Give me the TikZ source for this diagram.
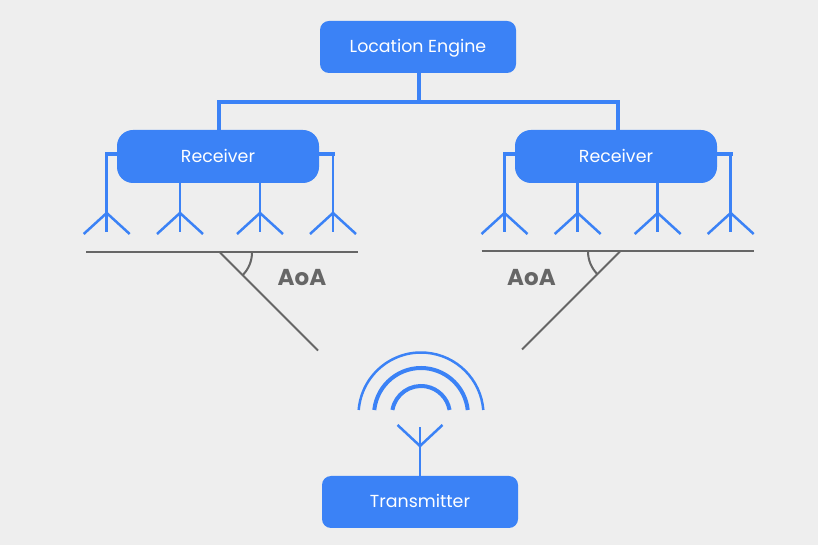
\documentclass[tikz,border=0pt]{standalone}
\usepackage{fontspec}
\setmainfont{Poppins}
\definecolor{bluebox}{HTML}{3B82F6}
\definecolor{bgc}{HTML}{EEEEEE}
\definecolor{greyl}{HTML}{666666}
\tikzset{
  box/.style={fill=bluebox,text=white,rounded corners=#1,inner sep=0pt,text height=12pt,text depth=0pt,font=\fontsize{17.4}{20}\selectfont},
  wire/.style={draw=bluebox,line width=2.5pt},
  bus/.style={draw=bluebox,line width=3.6pt},
  stub/.style={draw=bluebox,line width=4pt},
  wave/.style={draw=bluebox,line cap=butt},
  ground/.style={draw=greyl,line width=2pt},
  aoa/.style={text=greyl,inner sep=0pt,text height=16pt,text depth=0pt,font=\fontsize{23}{26}\selectfont\bfseries},
}
% #1 coordinate name prefix, #2 x, #3 junction y
\newcommand{\antennaat}[3]{%
  \coordinate (#1j) at (#2,#3);
  \coordinate (#1e) at (#2,#3-19);
  \coordinate (#1l) at (#2-23,#3-21);
  \coordinate (#1r) at (#2+23,#3-21);
  \draw[wire] (#1j) -- (#1e);
  \draw[wire] (#1l) -- (#1j) -- (#1r);
}
\begin{document}
\begin{tikzpicture}[x=1pt,y=1pt]
\useasboundingbox (0,0) rectangle (818,545);
\fill[bgc] (0,0) rectangle (818,545);

\node[box=9pt,minimum width=196pt,minimum height=52pt] (engine) at (418,498) {Location Engine};
\node[box=16pt,minimum width=202pt,minimum height=53pt] (rxL) at (218,388.5) {Receiver};
\node[box=16pt,minimum width=202pt,minimum height=53pt] (rxR) at (616,388.5) {Receiver};
\node[box=9pt,minimum width=196pt,minimum height=52pt] (tx) at (420,43) {Transmitter};

% bus
\coordinate (busj) at (418.7,443);
\draw[bus] (engine.south -| busj) -- (busj);
\draw[bus] ([xshift=1.2pt]rxL.north) |- (busj) -| ([xshift=2pt]rxR.north);

% left receiver antennas
\antennaat{a}{106.7}{332}
\antennaat{b}{180}{332}
\antennaat{c}{260}{332}
\antennaat{d}{333}{332}
\coordinate (as) at (105,391);
\coordinate (ds) at (335,391);
\draw[stub] (as) -- (as -| rxL.west);
\draw[stub] (ds -| rxL.east) -- (ds);
\draw[wire] (aj |- as) -- (aj);
\draw[wire] (dj |- ds) -- (dj);
\draw[wire] (bj |- rxL.south) -- (bj);
\draw[wire] (cj |- rxL.south) -- (cj);

% right receiver antennas
\antennaat{e}{504.5}{332}
\antennaat{f}{577.7}{332}
\antennaat{g}{657.7}{332}
\antennaat{h}{730.7}{332}
\coordinate (es) at (503,391);
\coordinate (hs) at (733,391);
\draw[stub] (es) -- (es -| rxR.west);
\draw[stub] (hs -| rxR.east) -- (hs);
\draw[wire] (ej |- es) -- (ej);
\draw[wire] (hj |- hs) -- (hj);
\draw[wire] (fj |- rxR.south) -- (fj);
\draw[wire] (gj |- rxR.south) -- (gj);

% ground lines and angles
\draw[ground] (86,292.5) -- (358,292.5);
\draw[ground] (220,292.5) -- (318,194.5);
\draw[ground] (252,292.5) arc[start angle=0,end angle=-45,radius=32];
\draw[ground] (481.5,293.5) -- (754,293.5);
\draw[ground] (620,293.5) -- (522,195.5);
\draw[ground] (588,293.5) arc[start angle=180,end angle=225,radius=32];
\node[aoa] (aoaL) at (302,267) {AoA};
\node[aoa] (aoaR) at (531.5,267) {AoA};

% transmitter
\coordinate (tj) at (420,99);
\coordinate (te) at (420,118);
\coordinate (tl) at (397.5,120);
\coordinate (tr) at (442.5,120);
\draw[wire] (tx.north) -- (te);
\draw[wire] (tl) -- (tj) -- (tr);
\coordinate (wc) at (421,130);
\draw[wave,line width=2.5pt] ([shift={(175.4:62.5)}]wc) arc[start angle=175.4,end angle=4.6,radius=62.5];
\draw[wave,line width=4pt] ([shift={(173.9:47)}]wc) arc[start angle=173.9,end angle=6.1,radius=47];
\draw[wave,line width=4pt] ([shift={(170:29)}]wc) arc[start angle=170,end angle=10,radius=29];
\end{tikzpicture}
\end{document}
